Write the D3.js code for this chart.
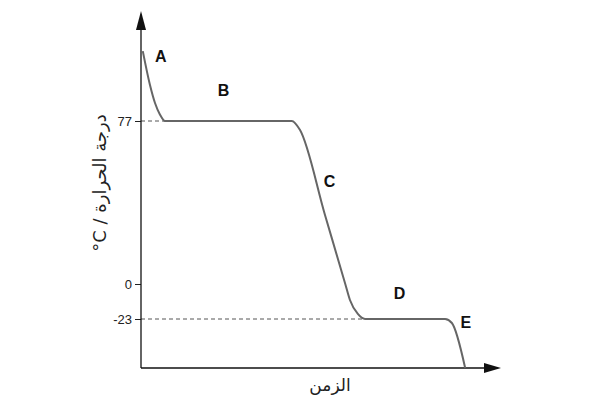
<!DOCTYPE html>
<html><head><meta charset="utf-8">
<script src="https://cdn.jsdelivr.net/npm/d3@7"></script>
<style>body{margin:0;background:#fff}svg{display:block}</style>
</head><body>
<script>
const times = [0.5, 2.5, 3.9, 5.3, 6.7, 20, 42, 44.3, 51.25, 56.9, 58.2, 60.4, 62.4, 75, 84.7, 86.6, 90.3];
const temps = [110, 94, 85.5, 80, 77, 77, 77, 72.7, 32.6, 0, -10.5, -19.7, -23, -23, -23, -25.6, -55];
const tickValues = [77, 0, -23];
const tickLabels = ["77", "0", "-23"];
const phaseLabels = ["A", "B", "C", "D", "E"];
const phaseTimes = [5.5, 23, 52.5, 72, 90.5];
const phaseTemps = [107, 91, 48, -7, -26];
const yTitle = "درجة الحرارة / \u200E°C";
const xTitle = "الزمن";

const W = 605, H = 411;
const svg = d3.select("body").append("svg").attr("width", W).attr("height", H);
const x = d3.scaleLinear().domain([0, 100]).range([141, 500]);
const y = d3.scaleLinear().domain([-55, -23, 0, 77]).range([368, 319, 284, 121]);

// dashed guides
svg.append("line").attr("x1", x(0)).attr("x2", x(6.7)).attr("y1", y(77)).attr("y2", y(77))
  .attr("stroke", "#555").attr("stroke-width", 1).attr("stroke-dasharray", "4,3");
svg.append("line").attr("x1", x(0)).attr("x2", x(62.4)).attr("y1", y(-23)).attr("y2", y(-23))
  .attr("stroke", "#555").attr("stroke-width", 1).attr("stroke-dasharray", "4,3");

// axes
const yAxis = svg.append("g").attr("transform", `translate(${x(0)},0)`)
  .call(d3.axisLeft(y).tickValues(tickValues).tickFormat((d, i) => tickLabels[i]).tickSize(6).tickPadding(3));
yAxis.select(".domain").remove();
yAxis.selectAll("text").attr("font-family", "Liberation Sans Narrow, Liberation Sans, Arial").attr("font-size", 13).attr("fill", "#222");
yAxis.selectAll("line").attr("stroke", "#222");

svg.append("line").attr("x1", x(0)).attr("x2", x(0)).attr("y1", y(-55)).attr("y2", 28).attr("stroke", "#111").attr("stroke-width", 1.3);
svg.append("line").attr("x1", x(0)).attr("x2", 490).attr("y1", y(-55)).attr("y2", y(-55)).attr("stroke", "#111").attr("stroke-width", 1.3);
svg.append("path").attr("d", `M${x(0)},11 L${x(0)-5},30 L${x(0)+5},30 Z`).attr("fill", "#111");
svg.append("path").attr("d", `M501,${y(-55)} L484,${y(-55)-5} L484,${y(-55)+5} Z`).attr("fill", "#111");

// curve
const pts = times.map((t, i) => [t, temps[i]]);
svg.append("path").datum(pts)
  .attr("d", d3.line().x(d => x(d[0])).y(d => y(d[1])).curve(d3.curveMonotoneX))
  .attr("fill", "none").attr("stroke", "#666").attr("stroke-width", 2);

// phase labels
svg.selectAll("text.ph").data(phaseLabels).enter().append("text").attr("class", "ph")
  .attr("x", (d, i) => x(phaseTimes[i])).attr("y", (d, i) => y(phaseTemps[i]))
  .attr("text-anchor", "middle").attr("dominant-baseline", "middle")
  .attr("font-family", "Liberation Sans, Arial").attr("font-weight", "bold").attr("font-size", 16)
  .attr("fill", "#111").text(d => d);

// titles
svg.append("text").attr("transform", "translate(101,183) rotate(-90)")
  .attr("text-anchor", "middle").attr("direction", "rtl").attr("dominant-baseline", "middle")
  .attr("font-family", "DejaVu Sans, Noto Sans").attr("font-size", 18).attr("fill", "#222").text(yTitle);
svg.append("text").attr("x", 330).attr("y", 386).attr("text-anchor", "middle").attr("dominant-baseline", "middle")
  .attr("font-family", "DejaVu Sans, Noto Sans").attr("font-size", 17).attr("fill", "#222").text(xTitle);
</script>
</body></html>
